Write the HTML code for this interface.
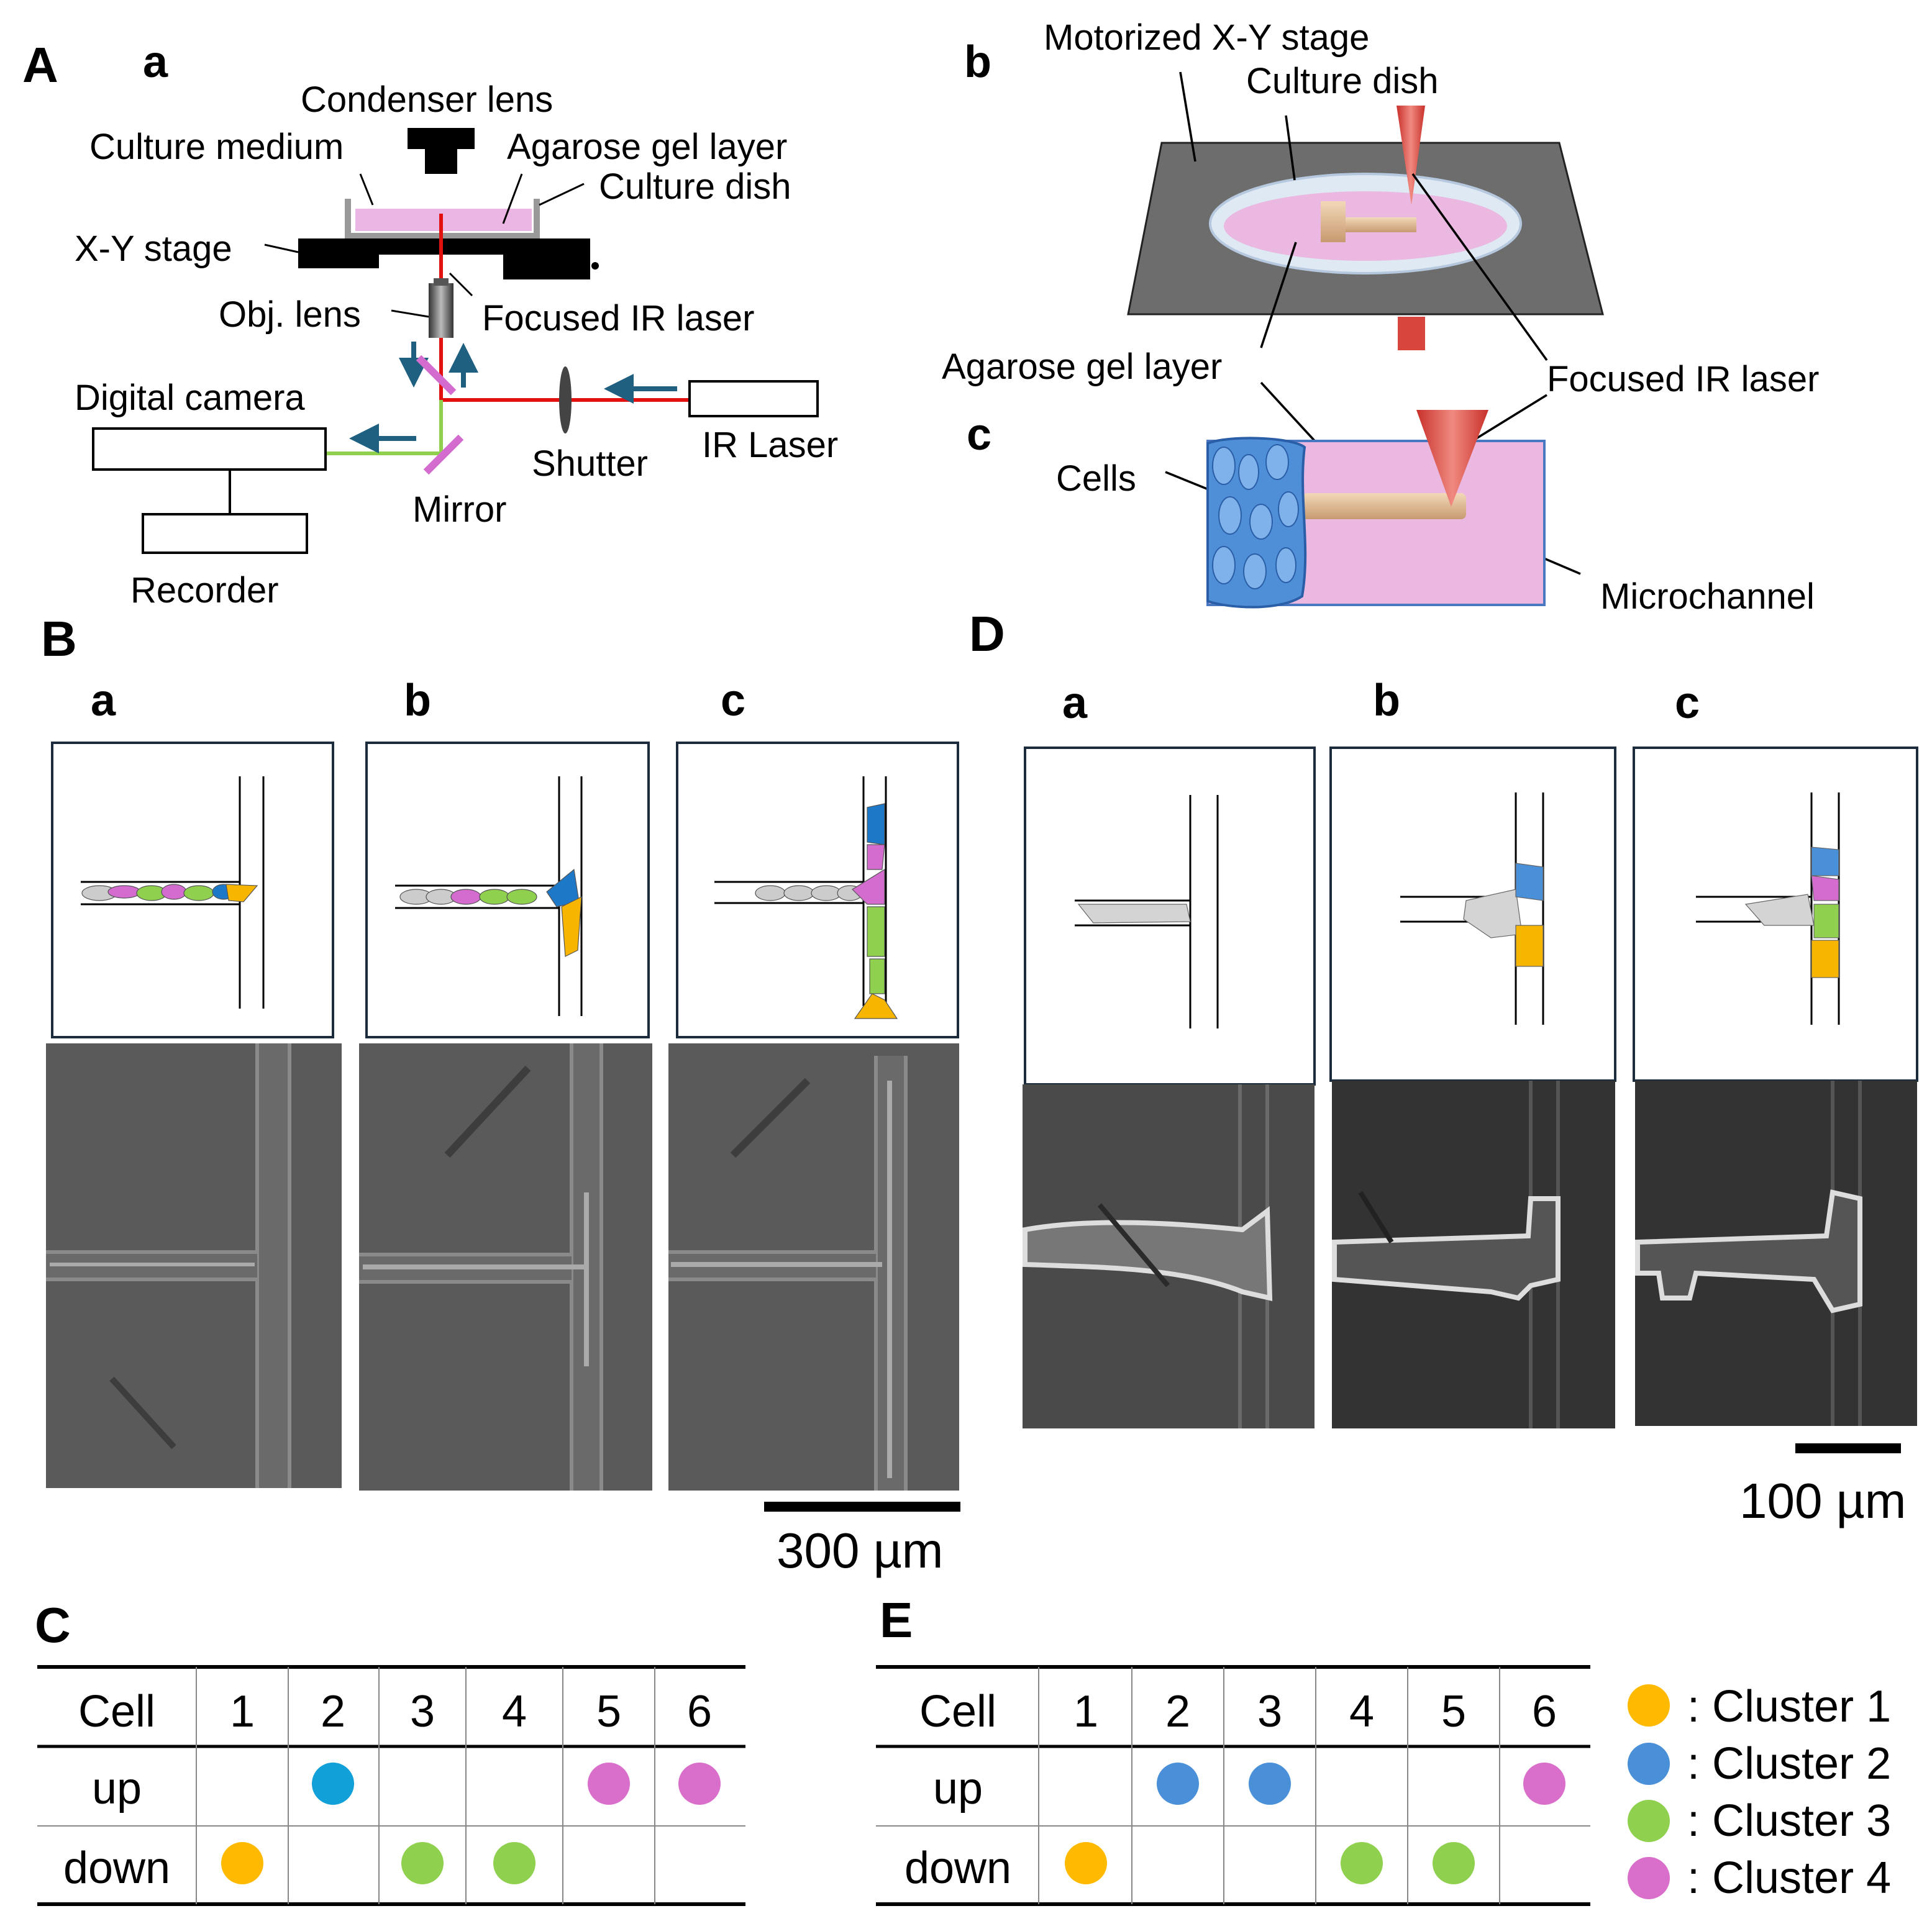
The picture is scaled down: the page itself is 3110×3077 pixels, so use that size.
<!DOCTYPE html>
<html><head><meta charset="utf-8"><style>
html,body{margin:0;padding:0;background:#fff}
svg{display:block}
text{font-family:"Liberation Sans",Arial,sans-serif;fill:#000}
</style></head><body>
<svg width="3110" height="3077" viewBox="0 0 1555 1538.5" xmlns="http://www.w3.org/2000/svg">
<defs>
<marker id="ah" markerWidth="6" markerHeight="6" refX="5" refY="3" orient="auto" markerUnits="strokeWidth"><path d="M0,0 L6,3 L0,6 z" fill="#1f5f80"/></marker>
<linearGradient id="lens" x1="0" x2="1"><stop offset="0" stop-color="#333"/><stop offset=".5" stop-color="#bbb"/><stop offset="1" stop-color="#333"/></linearGradient>
<linearGradient id="tan" x1="0" y1="0" x2="0" y2="1"><stop offset="0" stop-color="#f3d8b8"/><stop offset="1" stop-color="#c79a70"/></linearGradient>
<linearGradient id="redc" x1="0" x2="1"><stop offset="0" stop-color="#c8302a"/><stop offset=".5" stop-color="#f08a80"/><stop offset="1" stop-color="#c8302a"/></linearGradient>
</defs>
<!-- A a -->
<text x="18" y="66" font-size="40" font-weight="bold">A</text>
<text x="115" y="62" font-size="36" font-weight="bold">a</text>
<g font-size="29">
<text x="242" y="90">Condenser lens</text>
<text x="72" y="128">Culture medium</text>
<text x="408" y="128">Agarose gel layer</text>
<text x="482" y="160">Culture dish</text>
<text x="60" y="210">X-Y stage</text>
<text x="176" y="263">Obj. lens</text>
<text x="388" y="266">Focused IR laser</text>
<text x="60" y="330">Digital camera</text>
<text x="428" y="383">Shutter</text>
<text x="565" y="368">IR Laser</text>
<text x="332" y="420">Mirror</text>
<text x="105" y="485">Recorder</text>
</g>
<path d="M328,103 H382 V120 H368 V140 H342 V120 H328 Z" fill="#000"/>
<path d="M280,160 V190 H432 V160" fill="none" stroke="#999" stroke-width="5"/>
<rect x="286" y="168" width="142" height="18" fill="#ebb6e3"/>
<rect x="240" y="192" width="235" height="13" fill="#000"/>
<rect x="240" y="205" width="65" height="11" fill="#000"/>
<rect x="405" y="205" width="70" height="20" fill="#000"/>
<circle cx="479" cy="214" r="3" fill="#000"/>
<g stroke="#000" stroke-width="1.5" fill="none">
<path d="M300,165 L290,140"/><path d="M405,180 L420,140"/><path d="M434,165 L470,148"/>
<path d="M213,197 L240,203"/><path d="M315,250 L345,255"/><path d="M380,238 L362,220"/>
</g>
<path d="M355,172 V322 H555" stroke="#e31010" stroke-width="3" fill="none"/>
<rect x="345" y="228" width="20" height="44" fill="url(#lens)"/>
<rect x="349" y="224" width="12" height="6" fill="#555"/>
<path d="M355,322 V365 H263" stroke="#8fd14f" stroke-width="3" fill="none"/>
<g stroke="#1f5f80" stroke-width="4">
<path d="M333,275 V308" marker-end="url(#ah)"/>
<path d="M373,312 V280" marker-end="url(#ah)"/>
<path d="M545,313 H490" marker-end="url(#ah)"/>
<path d="M335,353 H285" marker-end="url(#ah)"/>
</g>
<g stroke="#d46ccf" stroke-width="6"><path d="M337,288 L365,316"/><path d="M343,380 L371,352"/></g>
<ellipse cx="455" cy="322" rx="5" ry="27" fill="#444"/>
<rect x="555" y="307" width="103" height="28" fill="#fff" stroke="#000" stroke-width="2"/>
<rect x="75" y="345" width="187" height="33" fill="#fff" stroke="#000" stroke-width="2"/>
<path d="M185,378 V414" stroke="#000" stroke-width="2"/>
<rect x="115" y="414" width="132" height="31" fill="#fff" stroke="#000" stroke-width="2"/>
<!-- b -->
<text x="776" y="62" font-size="36" font-weight="bold">b</text>
<g font-size="29">
<text x="840" y="40">Motorized X-Y stage</text>
<text x="1003" y="75">Culture dish</text>
<text x="758" y="305">Agarose gel layer</text>
<text x="1245" y="315">Focused IR laser</text>
<text x="850" y="395">Cells</text>
<text x="1288" y="490">Microchannel</text>
</g>
<path d="M935,115 H1255 L1290,253 H908 Z" fill="#6d6d6d" stroke="#222" stroke-width="1.5"/>
<ellipse cx="1099" cy="180" rx="125" ry="40" fill="#dfe9f3" stroke="#b5c8de" stroke-width="2"/>
<ellipse cx="1099" cy="182" rx="114" ry="28" fill="#eab8e1"/>
<rect x="1063" y="162" width="20" height="33" fill="url(#tan)"/>
<rect x="1083" y="175" width="57" height="12" fill="url(#tan)"/>
<path d="M1124,85 L1147,85 L1136,165 Z" fill="url(#redc)"/>
<rect x="1125" y="255" width="22" height="27" fill="#d8453c"/>
<g stroke="#000" stroke-width="1.8" fill="none">
<path d="M950,58 L962,130"/><path d="M1035,93 L1042,145"/><path d="M1043,195 L1015,280"/><path d="M1137,140 L1245,290"/>
<path d="M938,380 L975,395"/><path d="M1150,410 L1272,462"/><path d="M1015,308 L1072,370"/><path d="M1245,318 L1185,355"/>
</g>
<!-- c -->
<text x="778" y="362" font-size="36" font-weight="bold">c</text>
<rect x="972" y="355" width="271" height="132" fill="#eab8e1" stroke="#4a78c0" stroke-width="2"/>
<rect x="1048" y="397" width="132" height="21" rx="4" fill="url(#tan)"/>
<path d="M972,357 C990,350 1040,352 1050,360 C1045,400 1055,440 1048,480 C1030,492 990,490 972,484 Z" fill="#4f8fd8" stroke="#2a5fa8" stroke-width="2"/>
<g fill="#7fb2ea" stroke="#2a5fa8" stroke-width="1">
<ellipse cx="985" cy="375" rx="9" ry="15"/><ellipse cx="1005" cy="380" rx="8" ry="14"/><ellipse cx="1028" cy="372" rx="9" ry="14"/>
<ellipse cx="990" cy="415" rx="9" ry="15"/><ellipse cx="1015" cy="420" rx="9" ry="14"/><ellipse cx="1037" cy="410" rx="8" ry="14"/>
<ellipse cx="985" cy="455" rx="9" ry="15"/><ellipse cx="1010" cy="460" rx="9" ry="14"/><ellipse cx="1035" cy="455" rx="8" ry="14"/>
</g>
<path d="M1140,330 L1198,330 L1168,408 Z" fill="url(#redc)"/>
<!-- B -->
<text x="33" y="528" font-size="40" font-weight="bold">B</text>
<g font-size="36" font-weight="bold"><text x="73" y="576">a</text><text x="325" y="576">b</text><text x="580" y="576">c</text></g>
<g fill="#fff" stroke="#1c2c3c" stroke-width="2">
<rect x="42" y="598" width="226" height="237"/><rect x="295" y="598" width="227" height="237"/><rect x="545" y="598" width="226" height="237"/>
</g>
<g stroke="#000" stroke-width="1.5" fill="none">
<path d="M193,625 V812 M212,625 V812 M65,710 H193 M65,728 H193"/>
<path d="M450,625 V818 M468,625 V818 M318,713 H450 M318,731 H450"/>
<path d="M695,625 V810 M713,625 V810 M575,710 H695 M575,727 H695"/>
</g>
<!-- B cells -->
<g stroke="#555" stroke-width="0.6">
<ellipse cx="80" cy="719" rx="14" ry="6" fill="#ccc"/><ellipse cx="100" cy="718" rx="13" ry="5" fill="#d46ccf"/><ellipse cx="122" cy="719" rx="12" ry="6" fill="#8fd14f"/><ellipse cx="140" cy="718" rx="10" ry="6" fill="#d46ccf"/><ellipse cx="160" cy="719" rx="12" ry="6" fill="#8fd14f"/><ellipse cx="180" cy="718" rx="9" ry="6" fill="#1e78c8"/><path d="M182,712 L207,713 L196,726 L184,725Z" fill="#f7b500"/>
<ellipse cx="335" cy="722" rx="13" ry="6" fill="#ccc"/><ellipse cx="355" cy="722" rx="12" ry="6" fill="#ccc"/><ellipse cx="375" cy="722" rx="12" ry="6" fill="#d46ccf"/><ellipse cx="398" cy="722" rx="12" ry="6" fill="#8fd14f"/><ellipse cx="420" cy="722" rx="12" ry="6" fill="#8fd14f"/><path d="M440,718 L462,700 L466,726 L448,730Z" fill="#1e78c8"/><path d="M452,730 L468,722 L465,765 L455,770Z" fill="#f7b500"/>
<ellipse cx="620" cy="719" rx="12" ry="6" fill="#ccc"/><ellipse cx="643" cy="719" rx="12" ry="6" fill="#ccc"/><ellipse cx="665" cy="719" rx="12" ry="6" fill="#ccc"/><ellipse cx="684" cy="719" rx="10" ry="6" fill="#ccc"/>
<path d="M698,650 L712,647 L712,680 L698,678Z" fill="#1e78c8"/><path d="M698,680 L712,680 L710,700 L698,700Z" fill="#d46ccf"/><path d="M686,716 L712,700 L712,728 L698,728Z" fill="#d46ccf"/><path d="M698,730 L712,730 L712,770 L698,770Z" fill="#8fd14f"/><path d="M700,772 L712,772 L712,800 L700,800Z" fill="#8fd14f"/><path d="M688,820 L722,820 L712,805 L702,800Z" fill="#f7b500"/>
</g>
<!-- B photos -->
<g>
<rect x="37" y="840" width="238" height="358" fill="#5a5a5a"/>
<rect x="207" y="840" width="26" height="358" fill="#6a6a6a"/><path d="M207,840 V1198 M233,840 V1198" stroke="#8a8a8a" stroke-width="3"/>
<rect x="37" y="1008" width="170" height="22" fill="#6a6a6a"/><path d="M37,1008 H207 M37,1030 H207" stroke="#8a8a8a" stroke-width="3"/>
<path d="M40,1018 H205" stroke="#aaa" stroke-width="3"/>
<path d="M90,1110 L140,1165" stroke="#3d3d3d" stroke-width="5"/>
<rect x="289" y="840" width="236" height="360" fill="#5a5a5a"/>
<rect x="460" y="840" width="24" height="360" fill="#6a6a6a"/><path d="M460,840 V1200 M484,840 V1200" stroke="#8a8a8a" stroke-width="3"/>
<rect x="289" y="1010" width="171" height="22" fill="#6a6a6a"/><path d="M289,1010 H460 M289,1032 H460" stroke="#8a8a8a" stroke-width="3"/>
<path d="M292,1020 H470 M472,960 V1100" stroke="#aaa" stroke-width="4"/>
<path d="M360,930 L425,860" stroke="#3d3d3d" stroke-width="6"/>
<rect x="538" y="840" width="234" height="360" fill="#5a5a5a"/>
<rect x="705" y="850" width="24" height="350" fill="#6a6a6a"/><path d="M705,850 V1200 M729,850 V1200" stroke="#8a8a8a" stroke-width="3"/>
<rect x="538" y="1008" width="167" height="22" fill="#6a6a6a"/><path d="M538,1008 H705 M538,1030 H705" stroke="#8a8a8a" stroke-width="3"/>
<path d="M540,1018 H710 M716,870 V1190" stroke="#aaa" stroke-width="4"/>
<path d="M590,930 L650,870" stroke="#3d3d3d" stroke-width="6"/>
</g>
<rect x="615" y="1209" width="158" height="8" fill="#000"/>
<text x="625" y="1262" font-size="40">300 µm</text>
<!-- D -->
<text x="780" y="524" font-size="40" font-weight="bold">D</text>
<g font-size="36" font-weight="bold"><text x="855" y="578">a</text><text x="1105" y="576">b</text><text x="1348" y="578">c</text></g>
<g fill="#fff" stroke="#1c2c3c" stroke-width="2">
<rect x="825" y="602" width="233" height="271"/><rect x="1071" y="602" width="229" height="268"/><rect x="1315" y="602" width="228" height="268"/>
</g>
<g stroke="#000" stroke-width="1.5" fill="none">
<path d="M958,640 V828 M980,640 V828 M865,725 H958 M865,745 H958"/>
<path d="M1220,638 V825 M1242,638 V825 M1127,722 H1220 M1127,742 H1220"/>
<path d="M1458,638 V825 M1480,638 V825 M1365,722 H1458 M1365,742 H1458"/>
</g>
<g stroke="#666" stroke-width="0.6">
<path d="M868,728 L955,728 L958,742 L880,743Z" fill="#d4d4d4"/>
<path d="M1180,725 L1220,716 L1225,752 L1200,755 L1178,740Z" fill="#d4d4d4"/>
<path d="M1220,695 L1242,698 L1242,725 L1220,722Z" fill="#4a90d9"/><path d="M1220,745 L1242,745 L1242,778 L1220,778Z" fill="#f7b500"/>
<path d="M1405,728 L1455,720 L1460,745 L1420,745Z" fill="#d4d4d4"/>
<path d="M1458,682 L1480,684 L1480,705 L1458,705Z" fill="#4a90d9"/><path d="M1458,705 L1480,708 L1480,725 L1460,725Z" fill="#d46ccf"/><path d="M1460,728 L1480,728 L1480,755 L1460,755Z" fill="#8fd14f"/><path d="M1458,757 L1480,757 L1480,787 L1458,787Z" fill="#f7b500"/>
</g>
<g>
<rect x="823" y="873" width="235" height="277" fill="#4a4a4a"/>
<path d="M998,873 V1150 M1020,873 V1150" stroke="#6a6a6a" stroke-width="3"/>
<path d="M825,990 C880,980 950,985 1000,990 L1020,975 L1022,1045 L1000,1040 C950,1020 880,1020 825,1018 Z" fill="#777" stroke="#ddd" stroke-width="4"/>
<path d="M885,970 L940,1035" stroke="#2a2a2a" stroke-width="4"/>
<rect x="1072" y="870" width="228" height="280" fill="#333"/>
<path d="M1232,870 V1150 M1254,870 V1150" stroke="#555" stroke-width="3"/>
<path d="M1074,1000 L1230,995 L1232,965 L1254,965 L1254,1030 L1232,1035 L1222,1045 L1200,1040 L1074,1030 Z" fill="#555" stroke="#ddd" stroke-width="4"/>
<path d="M1095,960 L1120,1000" stroke="#222" stroke-width="4"/>
<rect x="1316" y="870" width="227" height="278" fill="#333"/>
<path d="M1475,870 V1148 M1497,870 V1148" stroke="#555" stroke-width="3"/>
<path d="M1318,1000 L1470,995 L1475,960 L1497,965 L1497,1050 L1475,1055 L1460,1030 L1365,1025 L1360,1045 L1338,1045 L1335,1025 L1318,1025 Z" fill="#555" stroke="#ddd" stroke-width="4"/>
</g>
<rect x="1445" y="1162" width="85" height="8" fill="#000"/>
<text x="1400" y="1222" font-size="40">100 µm</text>
<!-- C table -->
<text x="28" y="1322" font-size="40" font-weight="bold">C</text>
<g stroke="#000">
<path d="M30,1342 H600 M30,1533 H600" stroke-width="3"/>
<path d="M30,1406 H600" stroke-width="2.5"/>
<path d="M30,1470 H600" stroke-width="1" stroke="#888"/>
<path d="M158,1342 V1533 M232,1342 V1533 M305,1342 V1533 M375,1342 V1533 M453,1342 V1533 M527,1342 V1533" stroke-width="1" stroke="#888"/>
</g>
<g font-size="36" text-anchor="middle">
<text x="94" y="1390">Cell</text><text x="195" y="1390">1</text><text x="268" y="1390">2</text><text x="340" y="1390">3</text><text x="414" y="1390">4</text><text x="490" y="1390">5</text><text x="563" y="1390">6</text>
<text x="94" y="1452">up</text><text x="94" y="1516">down</text>
</g>
<circle cx="268" cy="1436" r="17" fill="#12a0d8"/><circle cx="490" cy="1436" r="17" fill="#da6fcb"/><circle cx="563" cy="1436" r="17" fill="#da6fcb"/>
<circle cx="195" cy="1500" r="17" fill="#ffba00"/><circle cx="340" cy="1500" r="17" fill="#8fd14f"/><circle cx="414" cy="1500" r="17" fill="#8fd14f"/>
<!-- E table -->
<text x="708" y="1318" font-size="40" font-weight="bold">E</text>
<g stroke="#000">
<path d="M705,1342 H1280 M705,1533 H1280" stroke-width="3"/>
<path d="M705,1406 H1280" stroke-width="2.5"/>
<path d="M705,1470 H1280" stroke-width="1" stroke="#888"/>
<path d="M836,1342 V1533 M911,1342 V1533 M985,1342 V1533 M1059,1342 V1533 M1133,1342 V1533 M1207,1342 V1533" stroke-width="1" stroke="#888"/>
</g>
<g font-size="36" text-anchor="middle">
<text x="771" y="1390">Cell</text><text x="874" y="1390">1</text><text x="948" y="1390">2</text><text x="1022" y="1390">3</text><text x="1096" y="1390">4</text><text x="1170" y="1390">5</text><text x="1243" y="1390">6</text>
<text x="771" y="1452">up</text><text x="771" y="1516">down</text>
</g>
<circle cx="948" cy="1436" r="17" fill="#4a90d9"/><circle cx="1022" cy="1436" r="17" fill="#4a90d9"/><circle cx="1243" cy="1436" r="17" fill="#da6fcb"/>
<circle cx="874" cy="1500" r="17" fill="#ffba00"/><circle cx="1096" cy="1500" r="17" fill="#8fd14f"/><circle cx="1170" cy="1500" r="17" fill="#8fd14f"/>
<!-- legend -->
<circle cx="1327" cy="1373" r="17" fill="#ffba00"/><circle cx="1327" cy="1420" r="17" fill="#4a90d9"/><circle cx="1327" cy="1466" r="17" fill="#8fd14f"/><circle cx="1327" cy="1512" r="17" fill="#da6fcb"/>
<g font-size="36">
<text x="1358" y="1386">:  Cluster 1</text><text x="1358" y="1432">:  Cluster 2</text><text x="1358" y="1478">:  Cluster 3</text><text x="1358" y="1524">:  Cluster 4</text>
</g>
</svg>
</body></html>
